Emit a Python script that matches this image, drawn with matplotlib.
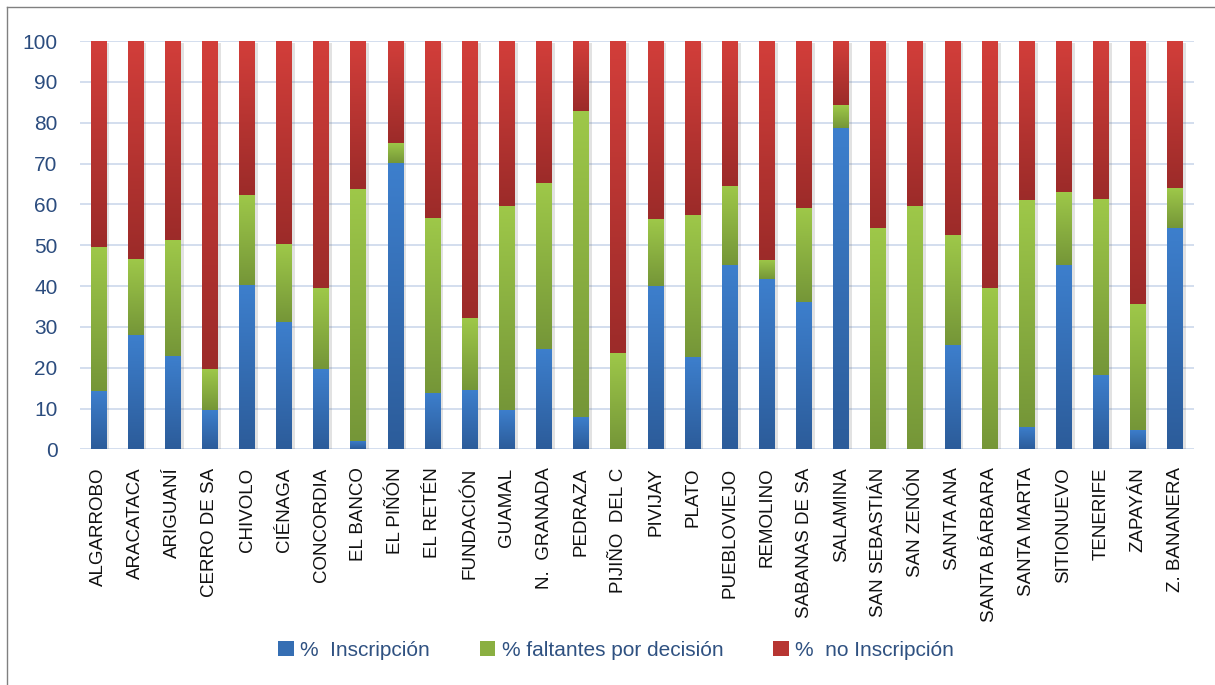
import numpy as np
import matplotlib.pyplot as plt
from matplotlib.colors import LinearSegmentedColormap, to_rgb
from matplotlib.patches import Patch
from matplotlib.lines import Line2D
import matplotlib.patheffects as pe

plt.rcParams['font.family'] = ['Liberation Sans', 'DejaVu Sans']

# Datos (porcentajes por municipio)
municipios = ['ALGARROBO', 'ARACATACA', 'ARIGUANÍ', 'CERRO DE SA', 'CHIVOLO',
              'CIÉNAGA', 'CONCORDIA', 'EL BANCO', 'EL PIÑÓN', 'EL RETÉN',
              'FUNDACIÓN', 'GUAMAL', 'N.  GRANADA', 'PEDRAZA', 'PIJIÑO  DEL C',
              'PIVIJAY', 'PLATO', 'PUEBLOVIEJO', 'REMOLINO', 'SABANAS DE SA',
              'SALAMINA', 'SAN SEBASTIÁN', 'SAN ZENÓN', 'SANTA ANA', 'SANTA BÁRBARA',
              'SANTA MARTA', 'SITIONUEVO', 'TENERIFE', 'ZAPAYÁN', 'Z. BANANERA']
inscripcion = [14.3, 28.0, 22.9, 9.7, 40.2, 31.3, 19.7, 2.0, 70.1, 13.8,
               14.6, 9.7, 24.6, 7.9, 0.0, 40.1, 22.6, 45.1, 41.7, 36.2,
               78.8, 0.0, 0.0, 25.6, 0.0, 5.5, 45.1, 18.2, 4.8, 54.3]
faltantes = [35.3, 18.6, 28.4, 10.0, 22.1, 19.0, 19.8, 61.8, 4.9, 42.9,
             17.6, 49.9, 40.6, 75.0, 23.6, 16.3, 34.8, 19.4, 4.7, 22.9,
             5.5, 54.2, 59.6, 26.9, 39.5, 55.6, 17.9, 43.1, 30.8, 9.7]
no_inscripcion = [50.4, 53.4, 48.7, 80.3, 37.7, 49.7, 60.5, 36.2, 25.0, 43.3,
                  67.8, 40.4, 34.8, 17.1, 76.4, 43.6, 42.6, 35.5, 53.6, 40.9,
                  15.7, 45.8, 40.4, 47.5, 60.5, 38.9, 37.0, 38.7, 64.4, 36.0]

series = [
    ('%  Inscripción', inscripcion, '#2C5C9A', '#3D7FCD'),
    ('% faltantes por decisión', faltantes, '#759638', '#9EC849'),
    ('%  no Inscripción', no_inscripcion, '#9C2B29', '#D23E3A'),
]

fig = plt.figure(figsize=(12.15, 6.85), dpi=100)
ax = fig.add_axes([0.0658, 0.344, 0.9169, 0.596])

x = np.arange(len(municipios))
grad = np.linspace(0, 1, 128).reshape(-1, 1)
base = np.zeros(len(municipios))
handles = []
for nombre, valores, oscuro, claro in series:
    cmap = LinearSegmentedColormap.from_list(nombre, [oscuro, claro])
    barras = ax.bar(x, valores, width=0.43, bottom=base, color=claro,
                    linewidth=0, zorder=2)
    # degradado tipo Excel en cada segmento
    for b in barras:
        if b.get_height() <= 0:
            continue
        b.set_path_effects([pe.SimplePatchShadow(offset=(2, -1.5), alpha=0.18,
                                                 shadow_rgbFace='#606060'),
                            pe.Normal()])
        x0, y0 = b.get_x(), b.get_y()
        ax.imshow(grad, extent=[x0, x0 + b.get_width(), y0, y0 + b.get_height()],
                  origin='lower', cmap=cmap, aspect='auto', zorder=3,
                  interpolation='bilinear')
    base = base + np.array(valores)
    medio = (np.array(to_rgb(oscuro)) + np.array(to_rgb(claro))) / 2
    handles.append(Patch(facecolor=medio, label=nombre))

ax.set_xlim(-0.5, len(municipios) - 0.5)
ax.set_ylim(0, 100)
ax.set_yticks(range(0, 101, 10))
ax.set_xticks(x)
ax.set_xticklabels(municipios, rotation=90, fontsize=13.5, color='#111111')
ax.tick_params(axis='x', length=0, pad=13)
ax.tick_params(axis='y', length=0, pad=16, labelsize=15, labelcolor='#2B4C7E')
ax.grid(axis='y', color='#D3DEEE', linewidth=1.4, zorder=0)
ax.set_axisbelow(True)
for s in ax.spines.values():
    s.set_visible(False)

fig.legend(handles=handles, loc='center', bbox_to_anchor=(0.507, 0.051), ncol=3,
           frameon=False, fontsize=15, handlelength=0.75, handleheight=0.75,
           handletextpad=0.3, columnspacing=2.4, labelcolor='#2F5181')

# marco exterior
fig.add_artist(Line2D([7 / 1215, 7 / 1215], [0, 1 - 7 / 685], color='#808080',
                      linewidth=1, transform=fig.transFigure))
fig.add_artist(Line2D([7 / 1215, 1], [1 - 7 / 685, 1 - 7 / 685], color='#808080',
                      linewidth=1, transform=fig.transFigure))

fig.savefig('out.png', dpi=100, facecolor='white')
